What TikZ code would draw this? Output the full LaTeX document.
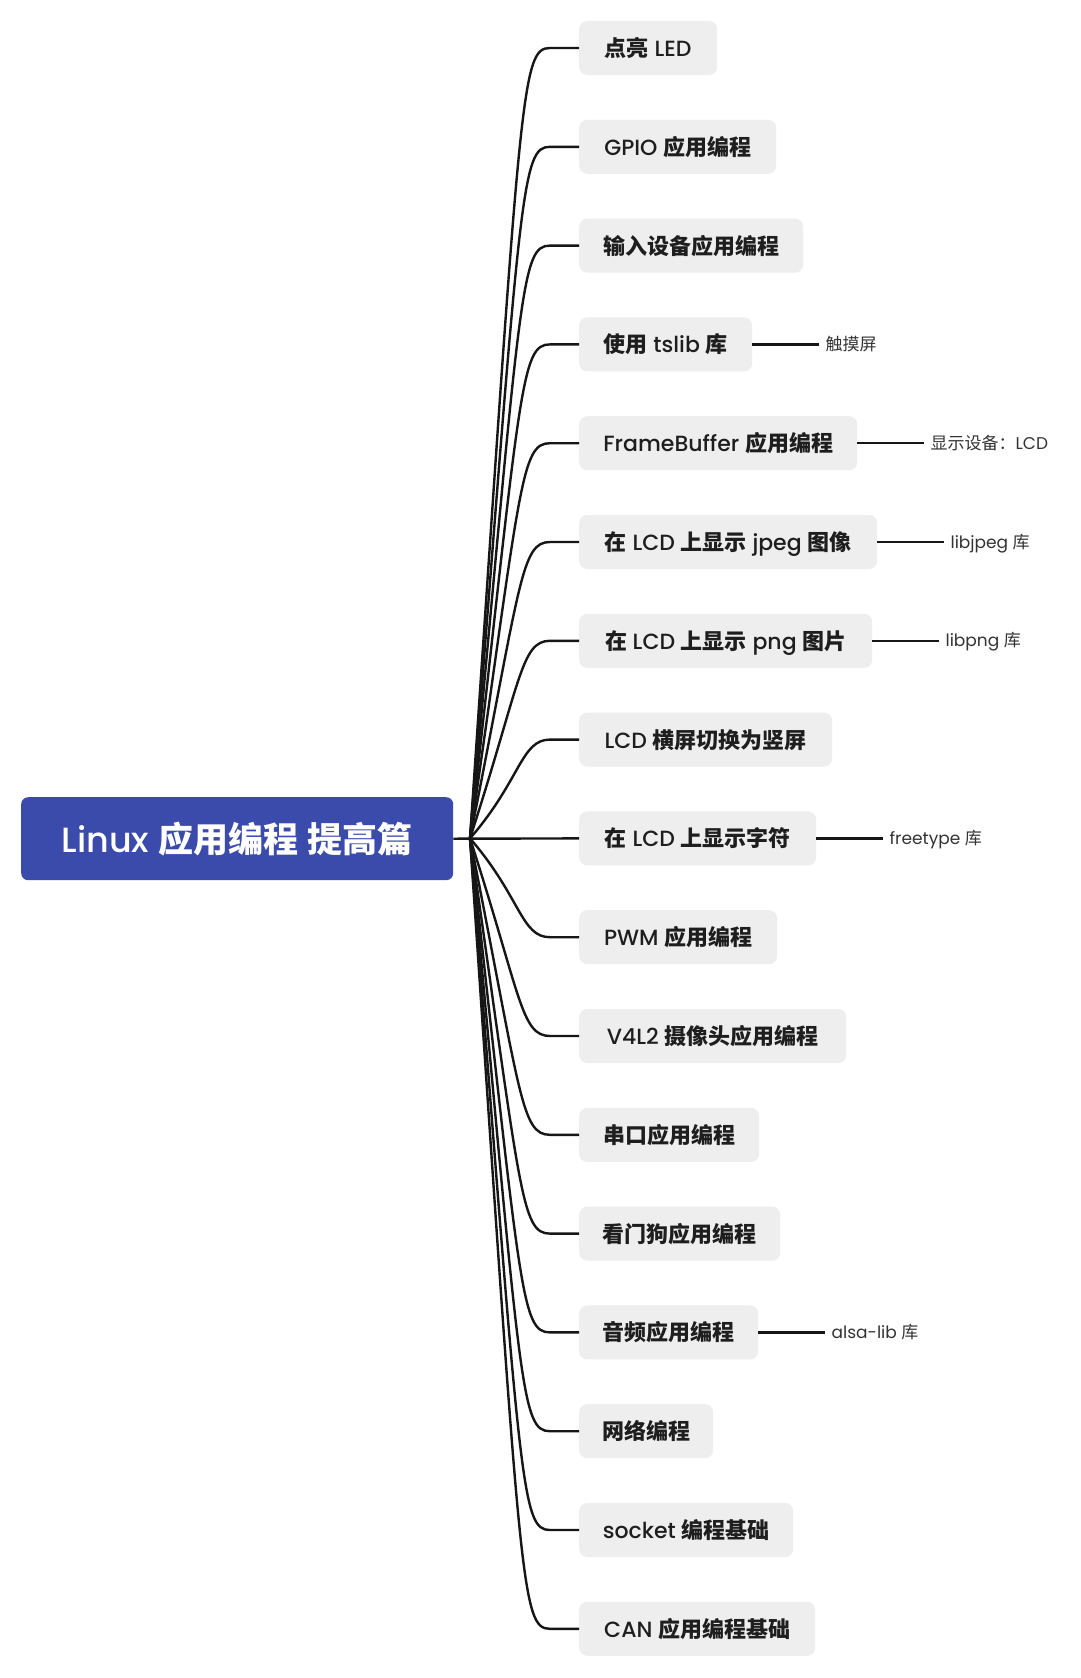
\documentclass[tikz,border=0pt]{standalone}
\usepackage{fontspec}
\setmainfont{Poppins}[BoldFont={Poppins Medium}]
\newfontfamily\cjk{Noto Sans CJK SC}
\newcommand\zh[1]{{\cjk\bfseries #1}}
\newcommand\zr[1]{{\cjk #1}}
\definecolor{rootblue}{HTML}{3A4BAB}
\definecolor{boxgray}{HTML}{EEEEEE}
\definecolor{txt}{HTML}{1E1E1E}
\definecolor{subtxt}{HTML}{333333}
\definecolor{linec}{HTML}{161616}
\tikzset{
  rootbox/.style={fill=rootblue, rounded corners=7pt, text=white, anchor=north west,
    minimum width=432pt, minimum height=83pt, inner sep=0pt,
    font=\fontsize{35}{40}\selectfont\bfseries, text height=27pt, text depth=0.4pt},
  childbox/.style={fill=boxgray, rounded corners=8pt, text=txt, anchor=west,
    minimum height=54pt, inner xsep=0pt, inner ysep=0pt,
    font=\fontsize{22}{26}\selectfont\bfseries, text height=17.5pt, text depth=0.7pt},
  sublabel/.style={anchor=west, inner xsep=6pt, inner ysep=0pt, text=subtxt,
    font=\fontsize{17}{20}\selectfont, text height=12.5pt, text depth=0.5pt},
  conn/.style={draw=linec, line width=2.4pt},
  subconn/.style={draw=linec, line width=2.4pt}
}
\begin{document}
\begin{tikzpicture}[x=1pt,y=1pt]
\fill[white] (0,0) rectangle (1080,-1678);
\useasboundingbox (0,0) rectangle (1080,-1678);
\node[rootbox] (root) at (21,-797) {Linux \zh{应用编程} \zh{提高篇}};
\coordinate (J) at (470,-838.4);
\foreach \i/\w/\t in {
  0/138/{\zh{点亮} LED},
  1/197/{GPIO \zh{应用编程}},
  2/224/{\zh{输入设备应用编程}},
  3/173/{\zh{使用} tslib \zh{库}},
  4/278/{FrameBuffer \zh{应用编程}},
  5/298/{\zh{在} LCD \zh{上显示} jpeg \zh{图像}},
  6/293/{\zh{在} LCD \zh{上显示} png \zh{图片}},
  7/253/{LCD \zh{横屏切换为竖屏}},
  8/237/{\zh{在} LCD \zh{上显示字符}},
  9/198/{PWM \zh{应用编程}},
  10/267/{V4L2 \zh{摄像头应用编程}},
  11/180/{\zh{串口应用编程}},
  12/201/{\zh{看门狗应用编程}},
  13/179/{\zh{音频应用编程}},
  14/134/{\zh{网络编程}},
  15/214/{socket \zh{编程基础}},
  16/236/{CAN \zh{应用编程基础}}}{
  \pgfmathsetmacro\yy{-(48+98.8*\i)}
  \node[childbox, minimum width=\w pt] (c\i) at (579,\yy) {\t};
}
\foreach \i in {0,...,7,9,10,...,16}{
  \pgfmathsetmacro\s{\i<8 ? -40 : 40}
  \draw[conn] (J) .. controls ([xshift=-58pt,yshift=\s pt]c\i.west) and ([xshift=-58pt]c\i.west) .. ([xshift=-29pt]c\i.west) -- (c\i.west);
}
\draw[conn] (root.east) -- (c8.west);
% sub topics
\node[sublabel] (s3) at ([xshift=67pt]c3.east) {\zr{触摸屏}};
\node[sublabel] (s4) at ([xshift=67pt]c4.east) {\zr{显示设备：}LCD};
\node[sublabel] (s5) at ([xshift=67pt]c5.east) {libjpeg \zr{库}};
\node[sublabel] (s6) at ([xshift=67pt]c6.east) {libpng \zr{库}};
\node[sublabel] (s8) at ([xshift=67pt]c8.east) {freetype \zr{库}};
\node[sublabel] (s13) at ([xshift=67pt]c13.east) {alsa-lib \zr{库}};
\foreach \i in {3,4,5,6,8,13}{
  \draw[subconn] (c\i.east) -- (s\i.west);
}
\end{tikzpicture}
\end{document}
